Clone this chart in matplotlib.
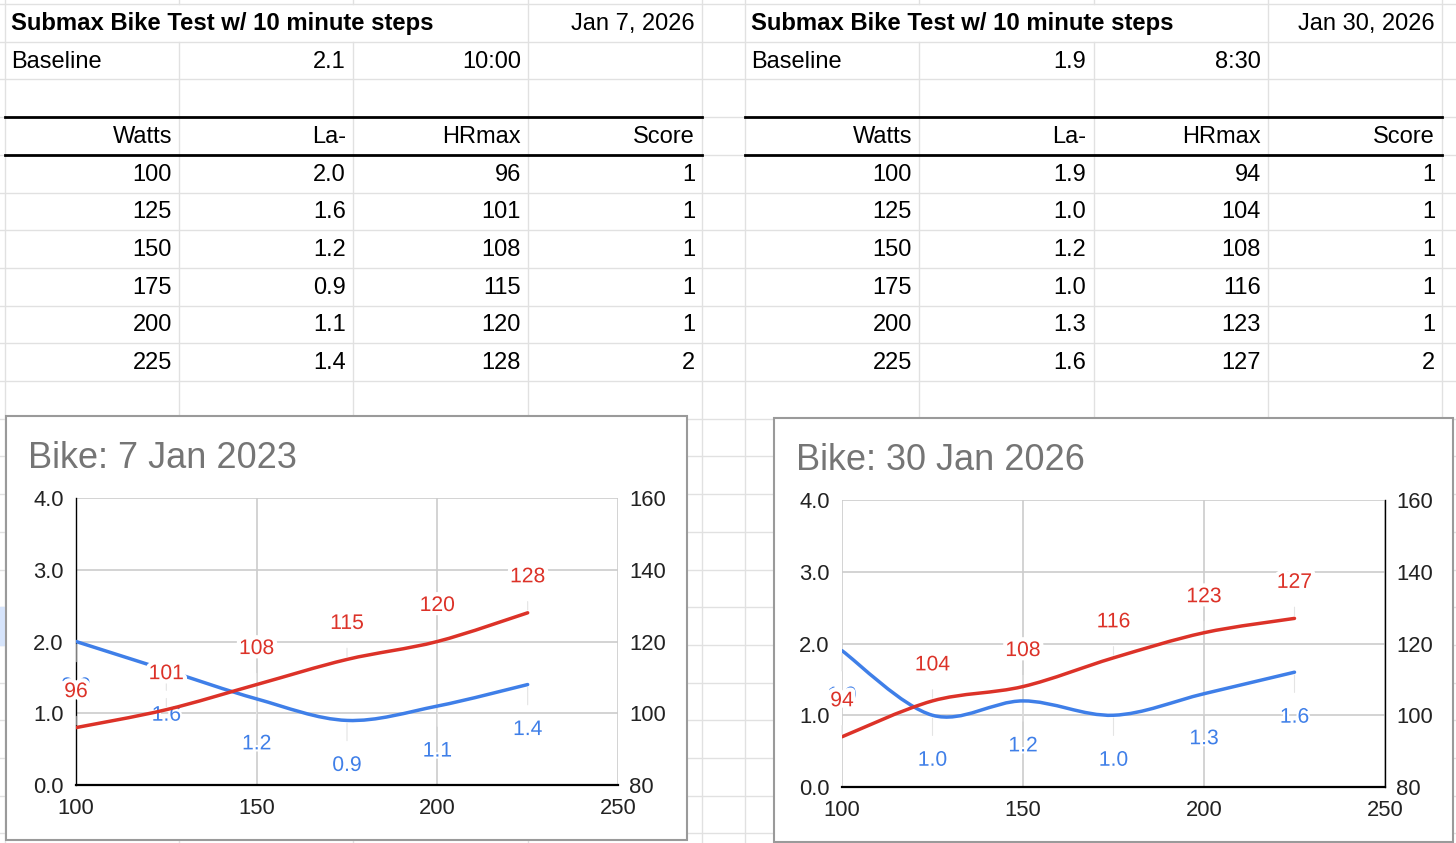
import matplotlib
matplotlib.use("Agg")
import matplotlib.pyplot as plt
from matplotlib.path import Path
from matplotlib.patches import PathPatch, Rectangle
import matplotlib.patheffects as pe

plt.rcParams["font.family"] = ["Liberation Sans", "DejaVu Sans"]

W, H = 1456, 843

# ---- data ----
watts = [100, 125, 150, 175, 200, 225]

la_jan7 = [2.0, 1.6, 1.2, 0.9, 1.1, 1.4]
hr_jan7 = [96, 101, 108, 115, 120, 128]
score_jan7 = [1, 1, 1, 1, 1, 2]

la_jan30 = [1.9, 1.0, 1.2, 1.0, 1.3, 1.6]
hr_jan30 = [94, 104, 108, 116, 123, 127]
score_jan30 = [1, 1, 1, 1, 1, 2]

headers = ["Watts", "La-", "HRmax", "Score"]
sheet_title = "Submax Bike Test w/ 10 minute steps"

BLUE = "#3f7fe8"
RED = "#dc3228"
GRID = "#e1e1e1"


def smooth_path(xs, ys):
    # catmull-rom style bezier, like the sheets "smooth" line option
    verts = [(xs[0], ys[0])]
    codes = [Path.MOVETO]
    n = len(xs)
    for i in range(n - 1):
        x0, y0 = xs[i], ys[i]
        x1, y1 = xs[i + 1], ys[i + 1]
        xp, yp = (xs[i - 1], ys[i - 1]) if i > 0 else (x0, y0)
        xn, yn = (xs[i + 2], ys[i + 2]) if i + 2 < n else (x1, y1)
        verts += [(x0 + (x1 - xp) / 6, y0 + (y1 - yp) / 6),
                  (x1 - (xn - x0) / 6, y1 - (yn - y0) / 6),
                  (x1, y1)]
        codes += [Path.CURVE4] * 3
    return Path(verts, codes)


fig = plt.figure(figsize=(W / 100, H / 100), dpi=100)
bg = fig.add_axes([0, 0, 1, 1])
bg.set_xlim(0, W)
bg.set_ylim(H, 0)
bg.axis("off")

# spreadsheet grid
row_h = 37.7
rows = [4 + row_h * k for k in range(23)]
cols = [5, 179, 353, 528, 702, 745, 919, 1094, 1268, 1442]
for y in rows:
    bg.plot([0, W], [y, y], color=GRID, lw=1, zorder=1)
for x in cols:
    if x in (179, 353, 919, 1094):
        # merged title cell in the first row
        bg.plot([x, x], [0, rows[0]], color=GRID, lw=1, zorder=1)
        bg.plot([x, x], [rows[1], H], color=GRID, lw=1, zorder=1)
    else:
        bg.plot([x, x], [0, H], color=GRID, lw=1, zorder=1)
bg.add_patch(Rectangle((0, rows[16]), 4, row_h, color="#d6e4fb", zorder=1))


def draw_table(x0, date, base_la, base_time, la, hr, score):
    edges = [x0 + 174, x0 + 348, x0 + 523, x0 + 697]
    mid = lambda r: (rows[r] + rows[r + 1]) / 2 + 1
    bg.text(x0 + 6, mid(0), sheet_title, fontsize=17.2, fontweight="bold",
            va="center", ha="left", zorder=3)
    bg.text(edges[3] - 7, mid(0), date, fontsize=17, va="center", ha="right", zorder=3)
    bg.text(x0 + 6, mid(1), "Baseline", fontsize=17, va="center", zorder=3)
    bg.text(edges[1] - 7, mid(1), base_la, fontsize=17, va="center", ha="right", zorder=3)
    bg.text(edges[2] - 7, mid(1), base_time, fontsize=17, va="center", ha="right", zorder=3)
    for c, h in enumerate(headers):
        bg.text(edges[c] - 7, mid(3), h, fontsize=17, va="center", ha="right", zorder=3)
    for i in range(len(watts)):
        vals = [str(watts[i]), "%.1f" % la[i], str(hr[i]), str(score[i])]
        for c, v in enumerate(vals):
            bg.text(edges[c] - 7, mid(4 + i), v, fontsize=17, va="center",
                    ha="right", zorder=3)
    for y in (rows[3], rows[4]):
        bg.plot([x0, x0 + 697], [y, y], color="black", lw=2, zorder=2)


draw_table(5, "Jan 7, 2026", "2.1", "10:00", la_jan7, hr_jan7, score_jan7)
draw_table(745, "Jan 30, 2026", "1.9", "8:30", la_jan30, hr_jan30, score_jan30)


def draw_chart(box, title, area, la, hr, axis_side):
    bx0, by0, bx1, by1 = box
    bg.add_patch(Rectangle((bx0, by0), bx1 - bx0, by1 - by0, facecolor="white",
                           edgecolor="#9a9a9a", lw=1.5, zorder=5))
    bg.text(bx0 + 22, by0 + 42, title, fontsize=26, color="#757575",
            va="center", ha="left", zorder=6)

    l, t, r, b = area
    ax = fig.add_axes([l / W, (H - b) / H, (r - l) / W, (b - t) / H])
    ax.set_facecolor("none")
    ax.set_xlim(100, 250)
    ax.set_ylim(0, 4)
    ax.set_xticks([100, 150, 200, 250])
    ax.set_yticks([0, 1, 2, 3, 4])
    ax.set_yticklabels(["0.0", "1.0", "2.0", "3.0", "4.0"])
    ax.grid(True, color="#cccccc", lw=1.2)
    ax.set_axisbelow(True)
    ax.tick_params(axis="both", length=0, labelsize=15.8, colors="#222222")
    ax.tick_params(axis="y", pad=9)
    ax.tick_params(axis="x", pad=9.5)

    ax2 = ax.twinx()
    ax2.set_ylim(80, 160)
    ax2.set_yticks([80, 100, 120, 140, 160])
    ax2.tick_params(axis="y", length=0, labelsize=15.8, colors="#222222", pad=8)

    for a in (ax, ax2):
        for s in a.spines.values():
            s.set_visible(False)
    ax.spines["bottom"].set_visible(True)
    ax.spines["bottom"].set_color("black")
    ax.spines["bottom"].set_linewidth(1.6)
    if axis_side == "left":
        ax.spines["left"].set_visible(True)
        ax.spines["left"].set_color("black")
        ax.spines["left"].set_linewidth(1.0)
    else:
        ax2.spines["right"].set_visible(True)
        ax2.spines["right"].set_color("black")
        ax2.spines["right"].set_linewidth(1.0)

    ax.add_patch(PathPatch(smooth_path(watts, la), fill=False, edgecolor=BLUE,
                           lw=2.5, capstyle="round", zorder=3))
    ax2.add_patch(PathPatch(smooth_path(watts, hr), fill=False, edgecolor=RED,
                            lw=2.5, capstyle="round", zorder=3))

    leader = dict(arrowstyle="-", color="#e4e4e4", lw=0.8, shrinkA=9, shrinkB=2)
    for x, v in zip(watts, la):
        ax.annotate("%.1f" % v, (x, v), xytext=(0, -45), textcoords="offset pixels",
                    ha="center", va="center", fontsize=15.2, color=BLUE,
                    path_effects=[pe.withStroke(linewidth=3, foreground="white")],
                    arrowprops=leader, zorder=4)
    for x, v in zip(watts, hr):
        ax2.annotate(str(v), (x, v), xytext=(0, 36), textcoords="offset pixels",
                     ha="center", va="center", fontsize=15.2, color=RED,
                     path_effects=[pe.withStroke(linewidth=6, foreground="white")],
                     arrowprops=leader, zorder=4)


draw_chart((6, 416, 687, 840), "Bike: 7 Jan 2023", (76, 498, 618, 785),
           la_jan7, hr_jan7, "left")
draw_chart((774, 418, 1453, 842), "Bike: 30 Jan 2026", (842, 500, 1385, 787),
           la_jan30, hr_jan30, "right")

fig.savefig("out.png", dpi=100)
